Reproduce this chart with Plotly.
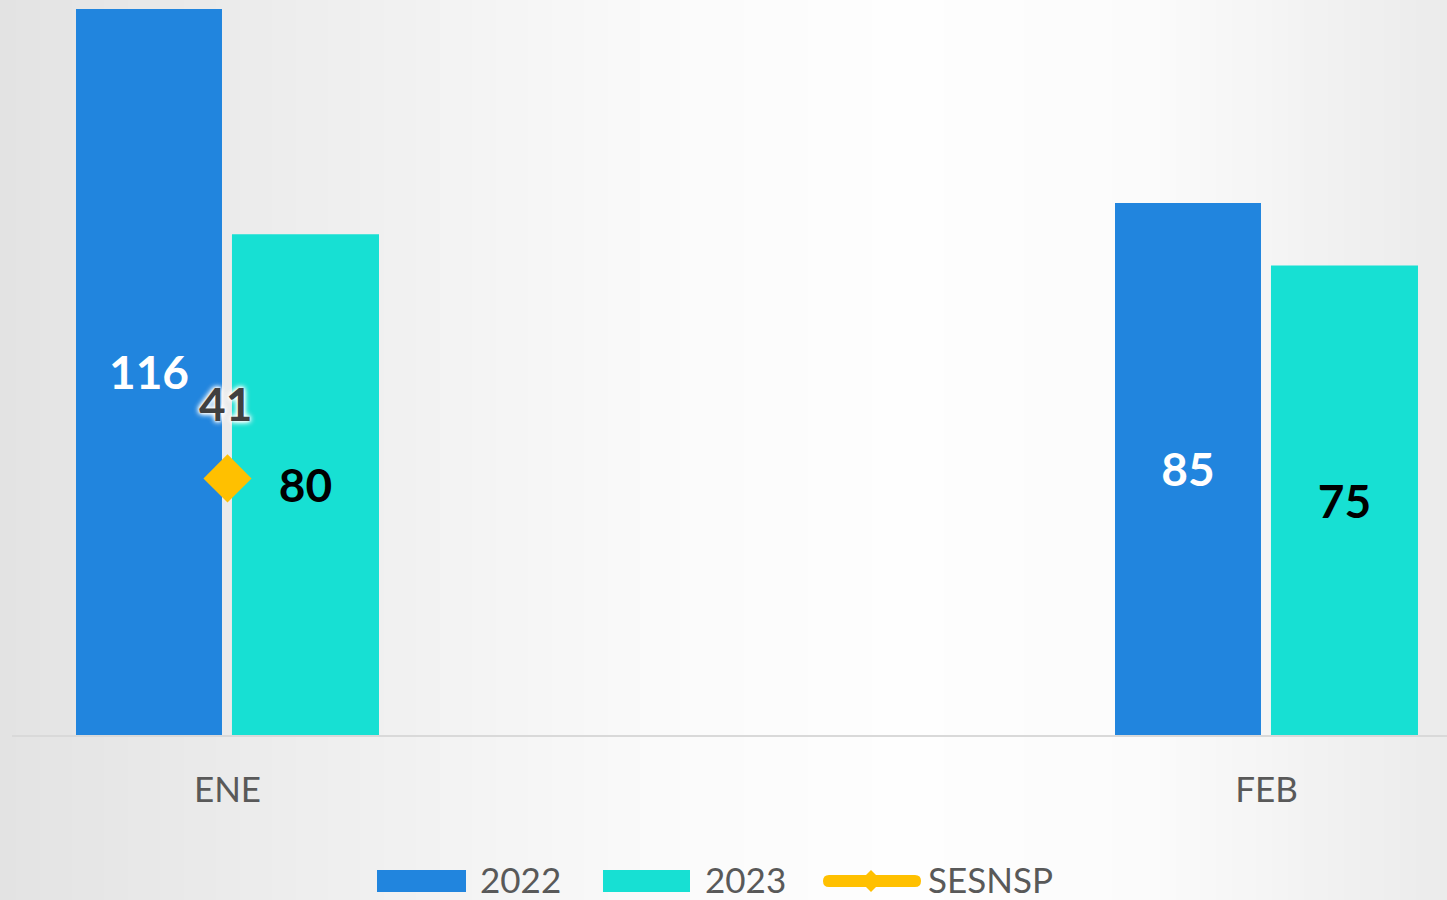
import plotly.graph_objects as go

# ---------------- data ----------------
categories = ["ENE", "FEB"]
series_names = ["2022", "2023", "SESNSP"]
values_2022 = [116, 85]
values_2023 = [80, 75]
sesnsp_categories = ["ENE"]
sesnsp_values = [41]

# ---------------- styles ----------------
C2022 = "#2185DE"
C2023 = "#17E0D3"
CSES = "#FFC000"
TXT = "#595959"
FONT = "Lato"

W, H = 1447, 900
ML, MR, MT, MB = 12, 0, 0, 165
PW, PH = W - ML - MR, H - MT - MB
PX_PER_UNIT_X = 1039.0
PX_PER_UNIT_Y = 6.259
CAT0_PX = 227.5  # pixel of first category centre

x_pos = list(range(len(categories)))
s_x = [categories.index(c) for c in sesnsp_categories]


def fx(px):
    return (px - ML) / PW


def fy(py):
    return (MT + PH - py) / PH


fig = go.Figure()

fig.add_bar(
    x=x_pos, y=values_2022, name=series_names[0],
    marker=dict(color=C2022, line=dict(width=0)),
    width=0.1405, offset=-0.1458,
    text=values_2022, textposition="inside", insidetextanchor="middle",
    textangle=0,
    textfont=dict(color="white", size=46, family=FONT, weight="bold"),
    showlegend=False, hoverinfo="skip",
)
fig.add_bar(
    x=x_pos, y=values_2023, name=series_names[1],
    marker=dict(color=C2023, line=dict(width=0)),
    width=0.1415, offset=0.0043,
    text=values_2023, textposition="inside", insidetextanchor="middle",
    textangle=0,
    textfont=dict(color="black", size=46, family=FONT, weight="bold"),
    showlegend=False, hoverinfo="skip",
)
fig.add_scatter(
    x=s_x, y=sesnsp_values, name=series_names[2], mode="markers",
    marker=dict(symbol="diamond", size=37, color=CSES, line=dict(width=0)),
    cliponaxis=False, showlegend=False, hoverinfo="skip",
)

for xv, yv in zip(s_x, sesnsp_values):
    fig.add_annotation(
        x=xv, y=yv, xref="x", yref="y", text=str(yv), showarrow=False,
        yshift=75, xshift=-2,
        font=dict(size=46, family=FONT, color="#404040", weight="bold",
                  shadow="0px 0px 6px white, 0px 0px 6px white, 0px 0px 4px white, 0px 0px 2px white"),
    )

# ---------------- background gradient ----------------
profile = [(0, 227), (400, 241), (650, 250), (900, 254), (1150, 251), (1447, 235)]


def shade(px):
    for (x0, c0), (x1, c1) in zip(profile[:-1], profile[1:]):
        if x0 <= px <= x1:
            return c0 + (c1 - c0) * (px - x0) / (x1 - x0)
    return profile[-1][1]


shapes = []
step = 8
for x0 in range(0, W, step):
    x1 = min(x0 + step, W)
    c = int(round(shade((x0 + x1) / 2)))
    shapes.append(dict(
        type="rect", xref="paper", yref="paper", layer="below",
        x0=fx(x0), x1=fx(x1 + 1), y0=fy(H), y1=fy(0),
        fillcolor=f"rgb({c},{c},{c})", line=dict(width=0),
    ))

# ---------------- legend (manual, large swatches) ----------------
LEG_Y = 881
TXT_Y = 879
swatches = [
    (series_names[0], C2022, 377, 466, 478),
    (series_names[1], C2023, 603, 690, 703),
]
for name, col, a, b, tx in swatches:
    shapes.append(dict(
        type="rect", xref="paper", yref="paper",
        x0=fx(a), x1=fx(b), y0=fy(LEG_Y + 11), y1=fy(LEG_Y - 11),
        fillcolor=col, line=dict(width=0),
    ))
    fig.add_annotation(
        x=fx(tx), y=fy(TXT_Y), xref="paper", yref="paper", text=name,
        showarrow=False, xanchor="left", yanchor="middle",
        font=dict(size=35, family=FONT, color=TXT),
    )

# SESNSP legend: thick rounded line + diamond
la, lb, th = 823, 921, 12
r = th / 2
path = (f"M{fx(la + r)},{fy(LEG_Y - r)} L{fx(lb - r)},{fy(LEG_Y - r)} "
        f"Q{fx(lb)},{fy(LEG_Y - r)} {fx(lb)},{fy(LEG_Y)} "
        f"Q{fx(lb)},{fy(LEG_Y + r)} {fx(lb - r)},{fy(LEG_Y + r)} "
        f"L{fx(la + r)},{fy(LEG_Y + r)} "
        f"Q{fx(la)},{fy(LEG_Y + r)} {fx(la)},{fy(LEG_Y)} "
        f"Q{fx(la)},{fy(LEG_Y - r)} {fx(la + r)},{fy(LEG_Y - r)} Z")
shapes.append(dict(type="path", xref="paper", yref="paper", path=path,
                   fillcolor=CSES, line=dict(width=0)))
dc, dh = 871, 11
dpath = (f"M{fx(dc)},{fy(LEG_Y - dh)} L{fx(dc + dh)},{fy(LEG_Y)} "
         f"L{fx(dc)},{fy(LEG_Y + dh)} L{fx(dc - dh)},{fy(LEG_Y)} Z")
shapes.append(dict(type="path", xref="paper", yref="paper", path=dpath,
                   fillcolor=CSES, line=dict(width=0)))
fig.add_annotation(
    x=fx(926), y=fy(TXT_Y), xref="paper", yref="paper", text=series_names[2],
    showarrow=False, xanchor="left", yanchor="middle",
    font=dict(size=35, family=FONT, color=TXT),
)

x_lo = (ML - CAT0_PX) / PX_PER_UNIT_X
x_hi = x_lo + PW / PX_PER_UNIT_X

fig.update_layout(
    width=W, height=H,
    margin=dict(l=ML, r=MR, t=MT, b=MB, autoexpand=False),
    paper_bgcolor="#e3e3e3", plot_bgcolor="rgba(0,0,0,0)",
    barmode="overlay", showlegend=False,
    shapes=shapes,
    font=dict(family=FONT, color=TXT),
    xaxis=dict(
        range=[x_lo, x_hi], tickvals=x_pos, ticktext=categories,
        tickfont=dict(size=35, family=FONT, color=TXT),
        showline=True, linecolor="#d9d9d9", linewidth=2,
        showgrid=False, zeroline=False, ticks="", ticklabelstandoff=23,
        fixedrange=True,
    ),
    yaxis=dict(range=[0, PH / PX_PER_UNIT_Y], visible=False, fixedrange=True),
)

fig.write_html(
    "out.html",
    config={"displayModeBar": False},
    post_script="document.body.style.margin='0';document.body.style.overflow='hidden';",
)
